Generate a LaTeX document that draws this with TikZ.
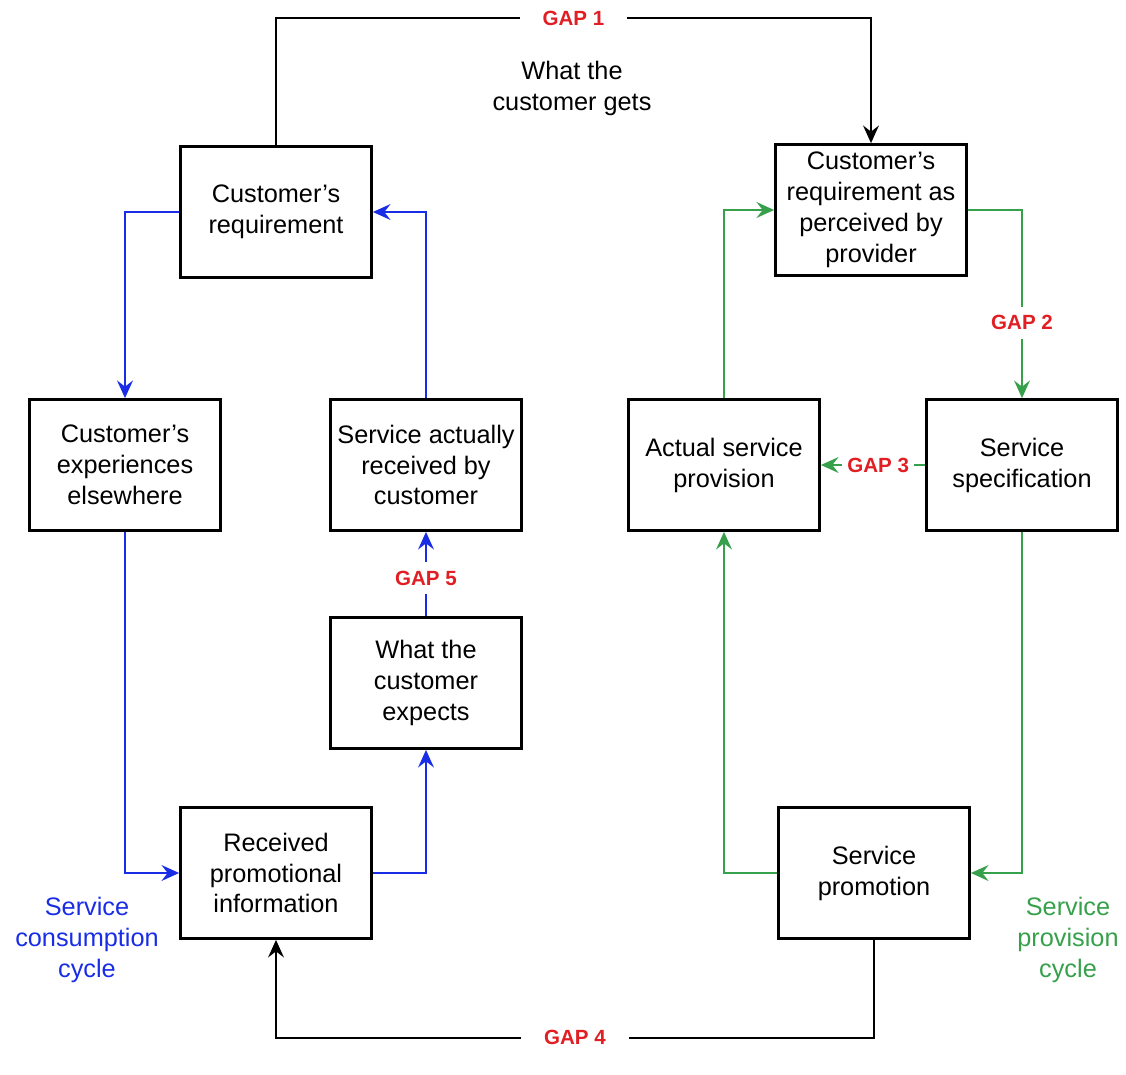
\documentclass[tikz,border=0pt]{standalone}
\usepackage{fontspec}
\setmainfont{Liberation Sans}
\usetikzlibrary{arrows.meta}

\definecolor{cycleblue}{RGB}{25,45,230}
\definecolor{cyclegreen}{RGB}{55,160,75}
\definecolor{gapred}{RGB}{225,30,35}

\tikzset{
  box/.style={draw, line width=1.6pt, minimum width=3.82cm, minimum height=2.62cm,
    align=center, inner sep=0pt, font=\fontsize{14.4}{17.6}\selectfont},
  gaplabel/.style={fill=white, text=gapred, inner sep=5pt,
    font=\fontsize{11.7}{14}\selectfont\bfseries},
  flow/.style={line width=1.3pt, -{Stealth[length=10pt,width=9pt,inset=3.5pt]}},
  consume/.style={flow, draw=cycleblue},
  provide/.style={flow, draw=cyclegreen},
  plain/.style={align=center, font=\fontsize{14.4}{17.6}\selectfont}
}

\begin{document}
\begin{tikzpicture}[x=0.02cm, y=-0.02cm]
    \useasboundingbox (0,0) rectangle (1126,1075);

    % boxes of the consumption cycle
    \node [box] (creq) at (276,212) {Customer’s\\requirement};
    \node [box] (exper) at (125,465) {Customer’s\\experiences\\elsewhere};
    \node [box] (rcvd) at (426,465) {Service actually\\received by\\customer};
    \node [box] (expect) at (426,683) {What the\\customer\\expects};
    \node [box] (promo) at (276,873) {Received\\promotional\\information};

    % boxes of the provision cycle
    \node [box] (cperc) at (871,210) {Customer’s\\requirement as\\perceived by\\provider};
    \node [box] (actual) at (724,465) {Actual service\\provision};
    \node [box] (spec) at (1022,465) {Service\\specification};
    \node [box] (spromo) at (874,873) {Service\\promotion};

    % free texts
    \node [plain] (gets) at (572,88) {What the\\customer gets};
    \node [plain, text=cycleblue] (ccycle) at (87,940) {Service\\consumption\\cycle};
    \node [plain, text=cyclegreen] (pcycle) at (1068,940) {Service\\provision\\cycle};

    % consumption cycle
    \draw[consume] (creq.west) -| (exper.north);
    \draw[consume] (exper.south) |- (promo.west);
    \draw[consume] (promo.east) -| (expect.south);
    \draw[consume] (expect.north) -- node[gaplabel, pos=0.45]{GAP 5} (rcvd.south);
    \draw[consume] (rcvd.north) |- (creq.east);

    % provision cycle
    \draw[provide] (cperc.east) -| node[gaplabel, pos=0.8]{GAP 2} (spec.north);
    \draw[provide] (spec.west) -- node[gaplabel, pos=0.45, inner xsep=3pt]{GAP 3} (actual.east);
    \draw[provide] (spec.south) |- (spromo.east);
    \draw[provide] (spromo.west) -| (actual.south);
    \draw[provide] (actual.north) |- (cperc.west);

    % gaps between the cycles
    \draw[flow] (creq.north) -- ++(0,-127) -| node[gaplabel, pos=0.25, inner xsep=13pt]{GAP 1} (cperc.north);
    \draw[flow] (spromo.south) -- ++(0,98) -| node[gaplabel, pos=0.25, inner xsep=13pt]{GAP 4} (promo.south);
\end{tikzpicture}
\end{document}
